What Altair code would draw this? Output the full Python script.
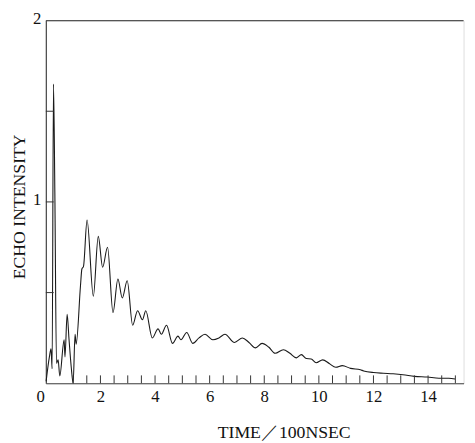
import altair as alt
import pandas as pd

# Echo intensity trace (time in units of 100 ns)
time = [0.01, 0.13, 0.19, 0.23, 0.28, 0.33, 0.39, 0.45, 0.51, 0.67, 0.70, 0.78, 0.85, 0.93, 1.00,
        1.07, 1.11, 1.27, 1.32, 1.38, 1.51, 1.74, 1.92, 2.08, 2.26, 2.46, 2.64, 2.80, 2.98, 3.18,
        3.36, 3.54, 3.66, 3.90, 4.11, 4.23, 4.42, 4.64, 4.84, 4.95, 5.16, 5.38, 5.61, 5.83, 6.12,
        6.34, 6.56, 6.91, 7.20, 7.44, 7.68, 7.92, 8.16, 8.40, 8.70, 8.94, 9.18, 9.36, 9.54, 9.72,
        9.90, 10.14, 10.38, 10.62, 10.86, 11.16, 11.52, 11.64, 12.00, 12.36, 12.72, 13.08, 13.50,
        13.97, 14.40, 14.76, 14.99]
intensity = [0.01, 0.145, 0.19, 0.08, 1.65, 1.05, 0.11, 0.13, 0.04, 0.24, 0.145, 0.38, 0.24, 0.09, 0.0,
             0.27, 0.215, 0.54, 0.63, 0.645, 0.90, 0.48, 0.81, 0.64, 0.75, 0.39, 0.575, 0.47, 0.565, 0.32,
             0.40, 0.35, 0.40, 0.25, 0.30, 0.27, 0.32, 0.22, 0.26, 0.24, 0.28, 0.22, 0.25, 0.27, 0.24,
             0.25, 0.27, 0.225, 0.25, 0.225, 0.195, 0.22, 0.20, 0.165, 0.185, 0.165, 0.14, 0.158, 0.136, 0.134,
             0.113, 0.129, 0.109, 0.088, 0.097, 0.082, 0.074, 0.068, 0.059, 0.055, 0.052, 0.047, 0.038,
             0.034, 0.028, 0.028, 0.023]

x_tick_labels = [0, 2, 4, 6, 8, 10, 12, 14]
y_tick_labels = [1, 2]
x_minor_ticks = [1.0 + 0.5 * i for i in range(29)]
y_minor_ticks = [0.5, 1.0, 1.5]

FONT = "Liberation Serif"
W, H = 425, 369

df = pd.DataFrame({"t": time, "v": intensity})
xscale = alt.Scale(domain=[0, 15.3], nice=False, zero=False)
yscale = alt.Scale(domain=[0, 2], nice=False)

line = alt.Chart(df).mark_line(color="#1a1a1a", strokeWidth=1.1, interpolate="monotone").encode(
    x=alt.X("t:Q", scale=xscale,
            axis=alt.Axis(values=x_tick_labels, title="TIME／100NSEC", ticks=False, grid=False,
                          format="d",
                          labelFont=FONT, labelFontSize=17, labelColor="#111",
                          labelPadding=6, domainColor="#444", domainWidth=1.2,
                          labelOffset={"condition": {"test": "datum.value === 0", "value": -10}, "value": 0},
                          titleFont=FONT, titleFontSize=18, titleFontWeight="normal", titleColor="#111",
                          titleX=242, titleY=41, titleBaseline="top")),
    y=alt.Y("v:Q", scale=yscale,
            axis=alt.Axis(values=y_tick_labels, title="ECHO INTENSITY", ticks=False, grid=False,
                          format="d",
                          labelFont=FONT, labelFontSize=17, labelColor="#111", labelPadding=5,
                          labelOffset=-2, domainColor="#444", domainWidth=1.2,
                          titleFont=FONT, titleFontSize=18, titleFontWeight="normal", titleColor="#111",
                          titleX=-22, titleY=189, titleBaseline="alphabetic")),
)

xt = alt.Chart(pd.DataFrame({"t": x_minor_ticks})).mark_rule(color="#333", strokeWidth=1).encode(
    x=alt.X("t:Q", scale=xscale), y=alt.value(H), y2=alt.value(H - 8))

yt = alt.Chart(pd.DataFrame({"v": y_minor_ticks})).mark_rule(color="#333", strokeWidth=1).encode(
    y=alt.Y("v:Q", scale=yscale), x=alt.value(0), x2=alt.value(8))

top = alt.Chart(pd.DataFrame({"v": [2]})).mark_rule(color="#555", strokeWidth=1.2).encode(
    y=alt.Y("v:Q", scale=yscale), x=alt.value(0), x2=alt.value(W))

chart = alt.layer(line, xt, yt, top).properties(
    width=W, height=H,
    autosize=alt.AutoSizeParams(type="none"),
    padding={"left": 38.5, "top": 9, "right": 3.5, "bottom": 57},
).configure_view(stroke=None).configure(background="white")

chart.save("out.html", embed_options={"renderer": "svg", "actions": False})
